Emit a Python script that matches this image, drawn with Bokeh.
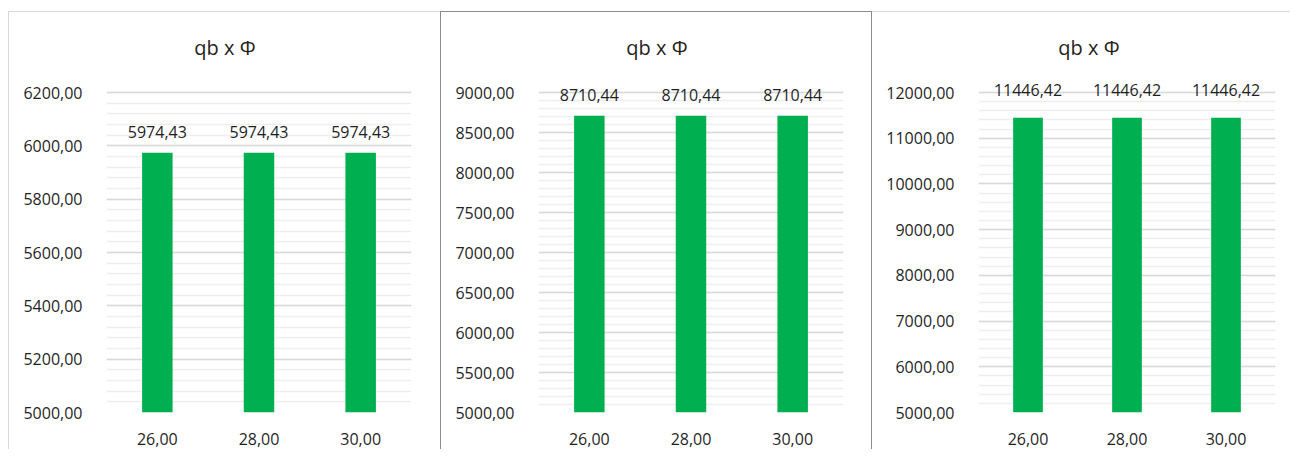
from bokeh.plotting import figure
from bokeh.models import ColumnDataSource, LabelSet, CustomJSTickFormatter, FixedTicker, Range1d
from bokeh.layouts import row
from bokeh.embed import file_html
from bokeh.resources import INLINE
from bokeh.core.properties import value

categories = ["26,00", "28,00", "30,00"]
values_1 = [5974.43, 5974.43, 5974.43]
values_2 = [8710.44, 8710.44, 8710.44]
values_3 = [11446.42, 11446.42, 11446.42]
chart_title = "qb x Φ"
y_min = 5000
y_max = [6200, 9000, 12000]
major_step = [200, 500, 1000]
minor_step = [40, 100, 200]

FONT = "Open Sans"
TXT = "#1f1f1f"
BAR = "#00b050"
FRAME_H = 380   # frame height in px (grid area is the lower 320 px)
GRID_H = 320


def fmt(v):
    return f"{v:.2f}".replace(".", ",")


def panel(vals, ymax, step, mstep, width, bl, br, styles, title_dx, label_dy):
    top_end = y_min + (ymax - y_min) * FRAME_H / GRID_H
    p = figure(x_range=categories, y_range=Range1d(y_min, top_end), width=width, height=438,
               output_backend="svg", toolbar_location=None, tools="",
               min_border_left=bl, min_border_right=br, min_border_top=20, min_border_bottom=38)
    p.styles = styles
    src = ColumnDataSource(dict(x=categories, top=vals, lab=[fmt(v) for v in vals]))
    p.vbar(x="x", top="top", bottom=y_min, width=0.3, source=src, fill_color=BAR, line_color=None)
    p.add_layout(LabelSet(x="x", y="top", text="lab", source=src, y_offset=label_dy,
                          text_align="center", text_baseline="middle",
                          text_font=value(FONT), text_font_size="16px", text_color=TXT))
    tsrc = ColumnDataSource(dict(x=[categories[1]], y=[ymax], t=[chart_title]))
    p.add_layout(LabelSet(x="x", y="y", text="t", source=tsrc, y_offset=45, x_offset=title_dx,
                          text_align="center", text_baseline="middle",
                          text_font=value(FONT), text_font_size="20px", text_color=TXT))
    p.outline_line_color = None
    p.background_fill_color = "white"
    p.border_fill_color = "white"
    p.xgrid.grid_line_color = None
    tk = FixedTicker(ticks=list(range(y_min, ymax + 1, step)),
                     minor_ticks=list(range(y_min, ymax + 1, mstep)))
    p.yaxis.ticker = tk
    p.ygrid.ticker = tk
    p.ygrid.grid_line_color = "#d9d9d9"
    p.ygrid.grid_line_width = 1.5
    p.ygrid.minor_grid_line_color = "#eeeeee"
    p.ygrid.minor_grid_line_width = 1.5
    p.yaxis.formatter = CustomJSTickFormatter(code="return tick.toFixed(2).replace('.', ',')")
    for ax in (p.xaxis, p.yaxis):
        ax.axis_line_color = None
        ax.major_tick_line_color = None
        ax.minor_tick_line_color = None
        ax.major_label_text_font = FONT
        ax.major_label_text_font_size = "16px"
        ax.major_label_text_color = TXT
    p.yaxis.major_label_standoff = 18
    p.xaxis.major_label_standoff = 14
    return p


light = "1px solid #d9d9d9"
dark = "1px solid #8c8c8c"
p1 = panel(values_1, y_max[0], major_step[0], minor_step[0], 432, 97, 30,
           {"border-top": light, "border-left": light, "margin-top": "11px", "margin-left": "8px"}, -34, 21)
p2 = panel(values_2, y_max[1], major_step[1], minor_step[1], 432, 97, 30,
           {"border-top": dark, "border-left": dark, "border-right": dark, "margin-top": "11px"}, -34, 21)
p3 = panel(values_3, y_max[2], major_step[2], minor_step[2], 418, 106, 15,
           {"border-top": light, "margin-top": "11px"}, -38, 28)

layout = row(p1, p2, p3)
open("out.html", "w").write(file_html(layout, INLINE))
